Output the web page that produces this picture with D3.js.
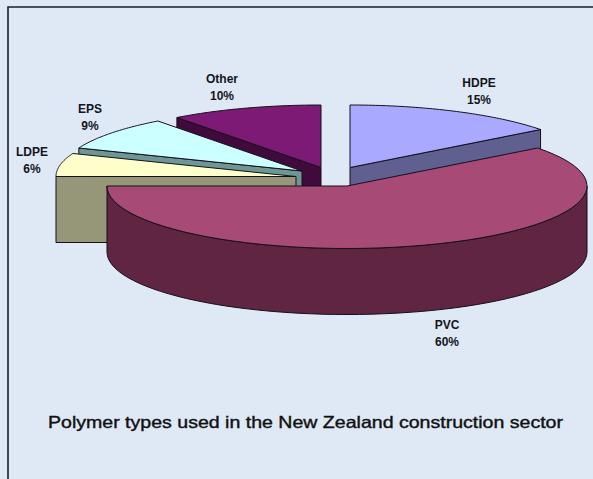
<!DOCTYPE html>
<html><head><meta charset="utf-8">
<script src="https://cdn.jsdelivr.net/npm/d3@7/dist/d3.min.js"></script>
<style>html,body{margin:0;padding:0;background:#dfe9f5}svg{display:block}</style>
</head><body><svg id="c" width="593" height="479"></svg>
<script>
const categories = ["HDPE","PVC","LDPE","EPS","Other"];
const values = [14.6,60.4,6,8.75,10.25];
const chartTitle = "Polymer types used in the New Zealand construction sector";

// styling and layout, separate from the data
const topColors  = {HDPE:"#a9a9ff",PVC:"#a84a76",LDPE:"#ffffcc",EPS:"#ccffff",Other:"#7c1a75"};
const wallColors = {HDPE:"#5f5f90",PVC:"#602540",LDPE:"#969678",EPS:"#6f9696",Other:"#400a3d"};
const apex = {HDPE:[350,167.5],PVC:[347,186],LDPE:[296,176.5],EPS:[302,171],Other:[321,167.5]};
const labelPos = {HDPE:[479,87],PVC:[447,329],LDPE:[32,156],EPS:[90,113],Other:[222,83]};
const rx = 240, ry = 62.5, depth = 66;
const drawOrder = ["Other","EPS","LDPE","HDPE","PVC"];

const svg = d3.select("#c");
svg.append("rect").attr("width",593).attr("height",479).attr("fill","#dfe9f5");
svg.append("path").attr("d","M8,479V7H593").attr("fill","none").attr("stroke","#1c1f24").attr("stroke-width",1.6);

const arcs = d3.pie().sort(null).value(d=>d.v)(categories.map((n,i)=>({n,v:values[i]})));
const byName = Object.fromEntries(arcs.map(a=>[a.data.n,a]));
const line = d3.line();
const pt = (n,a,dy=0)=>[apex[n][0]+rx*Math.sin(a), apex[n][1]-ry*Math.cos(a)+dy];
const samples = (a0,a1)=>d3.range(0,61).map(i=>a0+(a1-a0)*i/60);

function wallCut(n,a){
  const c = apex[n], p = pt(n,a);
  return [c,p,[p[0],p[1]+depth],[c[0],c[1]+depth]];
}
function draw(d,fill){
  svg.append("path").attr("d",d).attr("fill",fill)
    .attr("stroke","#15101a").attr("stroke-width",1).attr("stroke-linejoin","round");
}
drawOrder.forEach(n=>{
  const a = byName[n], s = a.startAngle, e = a.endAngle;
  if(n==="PVC"){
    const upper = samples(Math.PI/2,e).map(t=>pt(n,t));
    const lower = samples(Math.PI/2,e).map(t=>pt(n,t,depth)).reverse();
    draw(line(upper.concat(lower))+"Z",wallColors[n]);
  } else if(n==="HDPE"){
    draw(line(wallCut(n,e))+"Z",wallColors[n]);
  } else {
    draw(line(wallCut(n,s))+"Z",wallColors[n]);
  }
  draw(line([apex[n]].concat(samples(s,e).map(t=>pt(n,t))))+"Z",topColors[n]);
});

const labels = svg.append("g").attr("font-family","'Liberation Sans',Arial,sans-serif").attr("font-weight","bold").attr("font-size",12).attr("fill","#14141c").attr("text-anchor","middle");
categories.forEach((n,i)=>{
  const [x,y]=labelPos[n];
  const t=labels.append("text").attr("x",x).attr("y",y);
  t.append("tspan").attr("x",x).text(n);
  t.append("tspan").attr("x",x).attr("dy",16.5).text(Math.round(values[i])+"%");
});
svg.append("text").attr("x",305.5).attr("y",428).attr("text-anchor","middle")
  .attr("font-family","'Liberation Sans',Arial,sans-serif").attr("font-size",16.5).attr("fill","#111")
  .attr("stroke","#111").attr("stroke-width",0.4).attr("textLength",515).attr("lengthAdjust","spacingAndGlyphs").text(chartTitle);
</script></body></html>
